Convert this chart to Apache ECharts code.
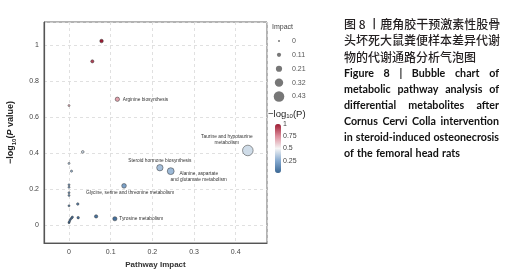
<!DOCTYPE html>
<html>
<head>
<meta charset="utf-8">
<script src="https://cdn.jsdelivr.net/npm/echarts@6/dist/echarts.min.js"></script>
<style>
  html, body { margin: 0; padding: 0; background: #fff; }
  #main { width: 512px; height: 278px; }
</style>
</head>
<body>
<div id="main"></div>
<script>
// pathway impact (x), -log10(P) (y), labelled pathways
var impact = [0.078, 0.056, 0, 0.116, 0.429, 0.033, 0, 0.006, 0.218, 0.244, 0.132,
  0, 0, 0, 0, 0, 0.021, 0.022, 0.065, 0.110, 0, 0.001, 0.003, 0.006, 0.008];
var logP = [1.024, 0.911, 0.665, 0.700, 0.415, 0.407, 0.343, 0.300, 0.319, 0.300, 0.218,
  0.224, 0.210, 0.180, 0.165, 0.107, 0.117, 0.041, 0.048, 0.035, 0.013, 0.020, 0.030, 0.038, 0.044];
var pathwayNames = ['', '', '', 'Arginine biosynthesis', 'Taurine and hypotaurine\nmetabolism', '', '', '',
  'Steroid hormone biosynthesis', 'Alanine, aspartate\nand glutamate metabolism',
  'Glycine, serine and threonine metabolism', '', '', '', '', '', '', '', '', 'Tyrosine metabolism',
  '', '', '', '', ''];
var impactTicks = [0, 0.11, 0.21, 0.32, 0.43];
var colorStops = ['#3a6794', '#86aad0', '#f5f5f5', '#dd8e9c', '#9e1b32'];

var captionCn = ['图 8 丨鹿角胶干预激素性股骨', '头坏死大鼠粪便样本差异代谢', '物的代谢通路分析气泡图'];
var captionEn = ['Figure 8  |  Bubble chart of', 'metabolic pathway analysis of',
  'differential metabolites after', 'Cornus Cervi Colla intervention',
  'in steroid-induced osteonecrosis', 'of the femoral head rats'];

// where each label sits relative to its bubble
var labelPlace = {
  'Arginine biosynthesis': { position: 'right', distance: 3 },
  'Taurine and hypotaurine\nmetabolism': { position: 'inside', offset: [-21, -11] },
  'Steroid hormone biosynthesis': { position: 'inside', offset: [0, -7.5] },
  'Alanine, aspartate\nand glutamate metabolism': { position: 'inside', offset: [28, 5.5] },
  'Glycine, serine and threonine metabolism': { position: 'inside', offset: [6, 7] },
  'Tyrosine metabolism': { position: 'right', distance: 2 }
};

function bubbleSize(v) { return 2 + v * 20; }

var points = impact.map(function (x, i) {
  var name = pathwayNames[i];
  var p = { value: [x, logP[i]], name: name };
  if (name) {
    var lp = labelPlace[name];
    p.label = {
      show: true, formatter: '{b}', position: lp.position,
      distance: lp.distance || 0, offset: lp.offset || [0, 0],
      align: lp.position === 'right' ? 'left' : 'center',
      color: '#333', fontSize: 4.8, lineHeight: 6.3
    };
  }
  return p;
});

// caption (justified by spreading word gaps, squeezed a little to fit)
var measure = document.createElement('canvas').getContext('2d');
var graphics = [];
var capX = 344, capW = 155;
captionCn.forEach(function (line, i) {
  graphics.push({
    type: 'text', x: capX, y: 24 + i * 16.5,
    style: { text: line, font: '500 12px "Noto Sans CJK SC"', fill: '#231f20', verticalAlign: 'middle' }
  });
});
var enFont = 'bold 12px Lato';
measure.font = enFont;
var squeeze = 1;
captionEn.forEach(function (line) {
  var words = line.split(/\s+/);
  var w = words.reduce(function (a, t) { return a + measure.measureText(t).width; }, 0);
  squeeze = Math.min(squeeze, (capW - 3 * (words.length - 1)) / w);
});
captionEn.forEach(function (line, i) {
  var y = 73 + i * 16;
  var words = line.split(/\s+/);
  var widths = words.map(function (w) { return measure.measureText(w).width * squeeze; });
  var total = widths.reduce(function (a, b) { return a + b; }, 0);
  var gap = i === captionEn.length - 1 ? 3.2 : (capW - total) / (words.length - 1);
  var x = capX;
  words.forEach(function (w, k) {
    graphics.push({ type: 'text', x: x, y: y, scaleX: squeeze,
      style: { text: w, font: enFont, fill: '#111', verticalAlign: 'middle' } });
    x += widths[k] + gap;
  });
});
graphics.push({ type: 'text', x: 272, y: 27,
  style: { text: 'Impact', font: '7px "Liberation Sans"', fill: '#444', verticalAlign: 'middle' } });
graphics.push({ type: 'text', x: 268, y: 114,
  style: { text: '−log{s|10}(P)', font: '9.5px "Liberation Sans"', fill: '#222', verticalAlign: 'middle',
    rich: { s: { fontSize: 6, verticalAlign: 'bottom', padding: [5, 0, 0, 0], fill: '#222' } } } });

var myChart = echarts.init(document.getElementById('main'));
var option = {
  animation: false,
  textStyle: { fontFamily: 'Liberation Sans' },
  graphic: graphics,
  grid: [
    { left: 44, top: 22, right: 245, bottom: 35, show: true, borderColor: '#666', borderWidth: 1 },
    { left: 272, top: 34, width: 14, height: 69.5 },
    { left: 275, top: 124, width: 6, height: 49 }
  ],
  xAxis: [
    {
      gridIndex: 0, type: 'value', min: -0.06, max: 0.475,
      name: 'Pathway Impact', nameLocation: 'middle', nameGap: 17,
      nameTextStyle: { fontSize: 8, fontWeight: 'bold', color: '#333' },
      axisLine: { show: true, onZero: false, lineStyle: { color: '#555', width: 1.2 } },
      axisTick: { show: false },
      axisLabel: { fontSize: 7, color: '#444', margin: 6, showMinLabel: false, showMaxLabel: false },
      splitLine: { show: true, lineStyle: { color: '#d9d9d9', type: [3, 3], width: 0.8 } }
    },
    { gridIndex: 1, type: 'value', min: -1, max: 1, show: false },
    { gridIndex: 2, type: 'value', min: 0, max: 1, show: false }
  ],
  yAxis: [
    {
      gridIndex: 0, type: 'value', min: -0.1, max: 1.13,
      name: '−log{s|10}({i|P} value)', nameLocation: 'middle', nameGap: 27,
      nameTextStyle: { fontSize: 9, fontWeight: 'bold', color: '#222',
        rich: { s: { fontSize: 6, fontWeight: 'bold', padding: [6, 0, 0, 0] },
                i: { fontSize: 9, fontWeight: 'bold', fontStyle: 'italic' } } },
      axisLine: { show: true, onZero: false, lineStyle: { color: '#555', width: 1.2 } },
      axisTick: { show: false },
      axisLabel: { fontSize: 7, color: '#444', margin: 5, showMinLabel: false, showMaxLabel: false },
      splitLine: { show: true, lineStyle: { color: '#d9d9d9', type: [3, 3], width: 0.8 } }
    },
    {
      gridIndex: 1, type: 'category', inverse: true, position: 'right',
      data: impactTicks.map(String),
      axisLine: { show: false }, axisTick: { show: false }, splitLine: { show: false },
      axisLabel: { fontSize: 7, color: '#555', margin: 6 }
    },
    {
      gridIndex: 2, type: 'value', min: 0, max: 1, interval: 0.25, position: 'right',
      axisLine: { show: false }, axisTick: { show: false }, splitLine: { show: false },
      axisLabel: { fontSize: 7, color: '#444', margin: 2, showMinLabel: false }
    }
  ],
  visualMap: {
    type: 'continuous', seriesIndex: 0, dimension: 1, min: 0, max: 1,
    calculable: false, left: 275, top: 124, itemWidth: 6, itemHeight: 49,
    padding: 0, text: null, showLabel: false,
    inRange: { color: colorStops }
  },
  series: [
    {
      type: 'scatter', xAxisIndex: 0, yAxisIndex: 0,
      data: points,
      symbolSize: function (v) { return bubbleSize(v[0]); },
      itemStyle: { borderColor: '#333', borderWidth: 0.5, opacity: 1 },
      emphasis: { disabled: true }
    },
    {
      type: 'scatter', xAxisIndex: 1, yAxisIndex: 1,
      data: impactTicks.map(function (v, i) { return [0, i]; }),
      symbolSize: function (v, p) { return bubbleSize(impactTicks[p.dataIndex]); },
      itemStyle: { color: '#555' },
      silent: true
    }
  ]
};
myChart.setOption(option);
</script>
</body>
</html>
